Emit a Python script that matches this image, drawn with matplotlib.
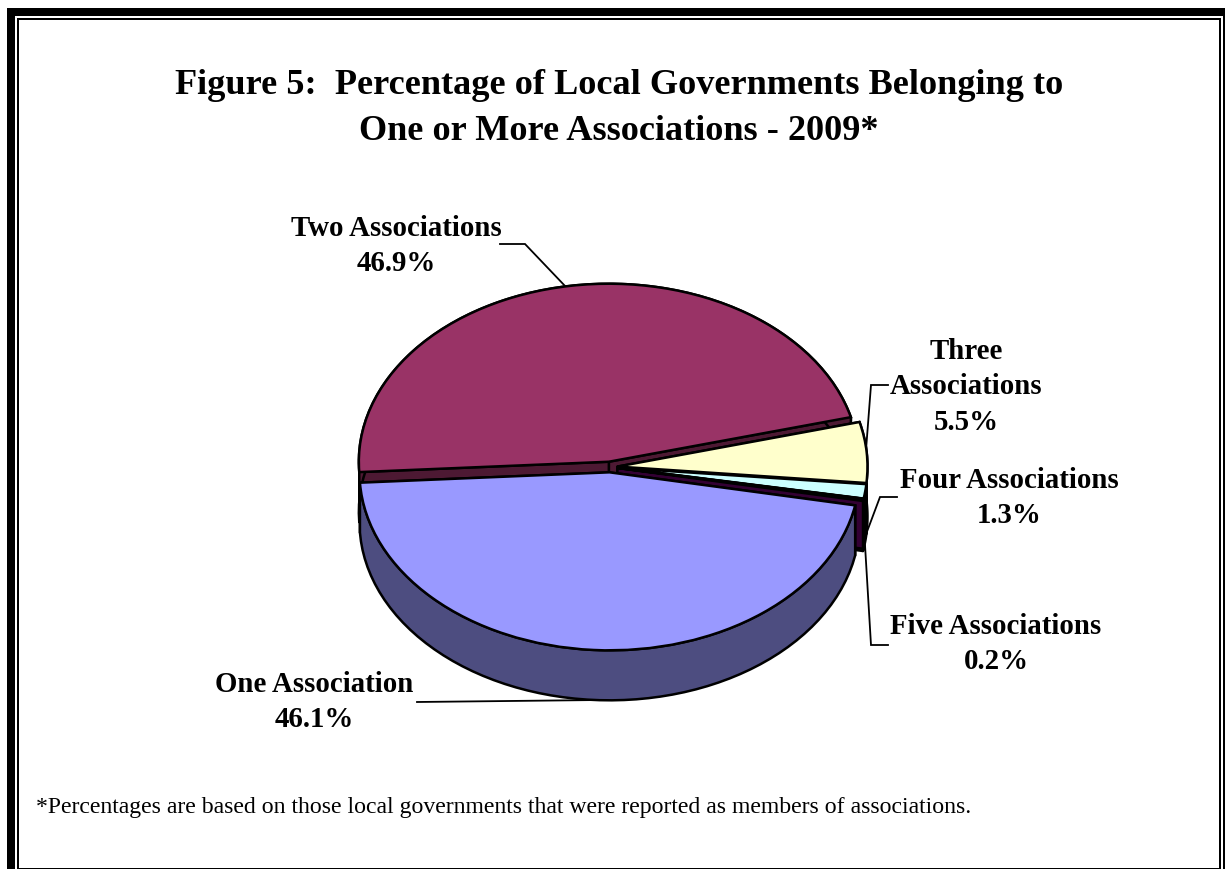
import numpy as np
import matplotlib
matplotlib.use("Agg")
import matplotlib.pyplot as plt
from matplotlib.patches import Polygon, Rectangle

plt.rcParams["font.family"] = ["Liberation Serif", "DejaVu Serif"]

# Slices, counter clockwise from the right hand side of the pie
categories = ["Two Associations", "One Association", "Five Associations",
              "Four Associations", "Three Associations"]
values = [46.9, 46.1, 0.2, 1.3, 5.5]
top_colors = ["#993366", "#9999FF", "#660066", "#CCFFFF", "#FFFFCC"]
side_colors = ["#4D1933", "#4D4D80", "#330033", "#000000", "#808066"]
draw_order = [0, 4, 3, 2, 1]  # back to front

title_lines = ["Figure 5:  Percentage of Local Governments Belonging to",
               "One or More Associations - 2009*"]
footnote = "*Percentages are based on those local governments that were reported as members of associations."

W, H = 1225, 869
cx, cy, rx, ry = 610, 467, 250, 178
depth = 50 / ry
edge_lw = 1.8

fig = plt.figure(figsize=(W / 100, H / 100), dpi=100)

# Overlay in pixel coordinates for the frame, leader lines and text
page = fig.add_axes([0, 0, 1, 1], zorder=0)
page.set_xlim(0, W)
page.set_ylim(H, 0)
page.axis("off")

page.add_patch(Rectangle((7, 8), W, H, color="black", lw=0))
page.add_patch(Rectangle((15, 16), 1208, H, color="white", lw=0))
page.add_patch(Rectangle((17, 18), 1204, 851, color="black", lw=0))
page.add_patch(Rectangle((19, 20), 1200, 848, color="white", lw=0))

# Pie axes: unit circle squashed into an ellipse by the axes limits
ax = fig.add_axes([0, 0, 1, 1], zorder=1)
ax.patch.set_alpha(0)
wedges, _ = ax.pie(values, startangle=14.5, counterclock=True, radius=1.0,
                   colors=top_colors, explode=[0.03] * len(values),
                   normalize=True,
                   wedgeprops=dict(edgecolor="black", linewidth=edge_lw))
ax.set_aspect("auto")
ax.set_xlim(-cx / rx, (W - cx) / rx)
ax.set_ylim((cy - H) / ry, cy / ry)
ax.axis("off")


def arc(center, r, a1, a2, n=60):
    t = np.radians(np.linspace(a1, a2, n))
    return np.column_stack([center[0] + r * np.cos(t), center[1] + r * np.sin(t)])


def add_face(pts, color, z):
    ax.add_patch(Polygon(pts, closed=True, facecolor=color, edgecolor="black",
                         linewidth=edge_lw, zorder=z, joinstyle="round"))


# Extrude each slice downward, then put its top face over it
z = 2
down = np.array([0, -depth])
for i in draw_order:
    w = wedges[i]
    c = np.array(w.center)
    outer = arc(c, w.r, w.theta1, w.theta2)
    color = side_colors[i]
    for end in (outer[0], outer[-1]):
        add_face(np.array([c, end, end + down, c + down]), color, z)
    add_face(np.vstack([outer, outer[::-1] + down]), color, z + 0.1)
    w.set_zorder(z + 0.2)
    z += 1

# Leader lines
leader_x = [[500, 525, 566], [888, 871, 866], [897, 880, 862], [888, 871, 865], [417, 600]]
leader_y = [[244, 244, 287], [385, 385, 450], [497, 497, 545], [645, 645, 545], [702, 700]]
for xs, ys in zip(leader_x, leader_y):
    page.plot(xs, ys, color="black", lw=1.3, solid_joinstyle="miter", zorder=3)

# Labels
label_text = {
    "Two Associations": "Two Associations\n%.1f%%",
    "One Association": "One Association\n%.1f%%",
    "Five Associations": "Five Associations\n%.1f%%",
    "Four Associations": "Four Associations\n%.1f%%",
    "Three Associations": "Three\nAssociations\n%.1f%%",
}
label_x = [396, 314, 996, 1009, 966]
label_y = [246, 702, 644, 498, 387]
for name, val, x, y in zip(categories, values, label_x, label_y):
    page.text(x, y, label_text[name] % val, ha="center", va="center",
              fontsize=20.8, fontweight="bold", linespacing=1.42)

page.text(619, 85, title_lines[0], ha="center", va="center", fontsize=26.1, fontweight="bold")
page.text(619, 131, title_lines[1], ha="center", va="center", fontsize=26.1, fontweight="bold")
page.text(36, 807, footnote, ha="left", va="center", fontsize=17.1)

fig.savefig("out.png", dpi=100)
